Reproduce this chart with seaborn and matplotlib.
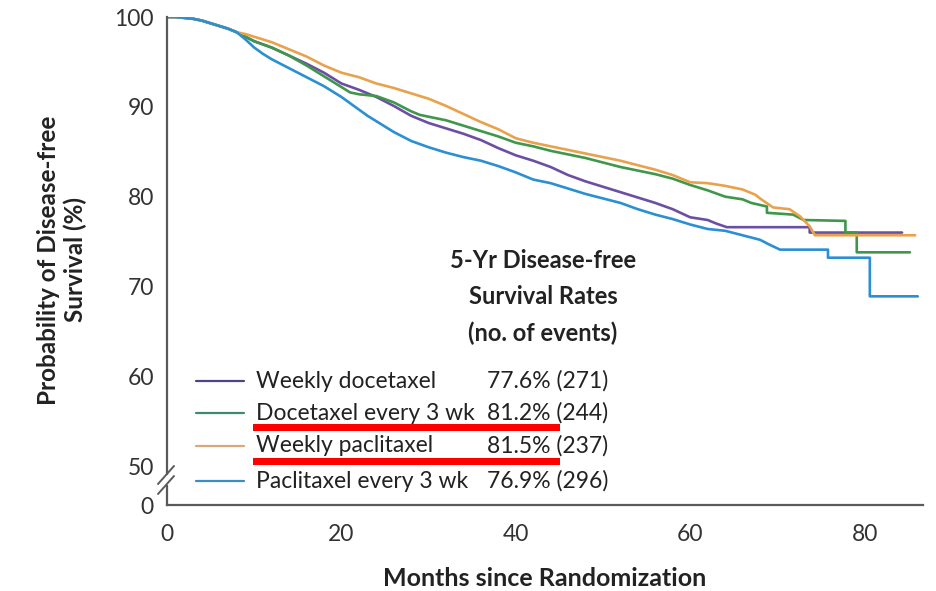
import numpy as np
import pandas as pd
import matplotlib
matplotlib.use("Agg")
import matplotlib.pyplot as plt
import seaborn as sns
from matplotlib.lines import Line2D
from matplotlib.patches import Rectangle

# ---- data -------------------------------------------------------------
arms = ["Weekly docetaxel", "Docetaxel every 3 wk",
        "Weekly paclitaxel", "Paclitaxel every 3 wk"]
five_year_rate = [77.6, 81.2, 81.5, 76.9]
n_events = [271, 244, 237, 296]
line_colors = ["#6b4fa3", "#3f974c", "#e9a24c", "#2b8fd4"]
key_colors = ["#4e4383", "#3f8a6c", "#d8a878", "#3a8ec2"]

shoulder_m = [0, 1, 2, 3, 4, 5, 6, 7, 8]
shoulder_s = [100, 100, 99.9, 99.8, 99.6, 99.3, 99.0, 98.7, 98.3]

wk_doc_m = shoulder_m + [9, 10, 12, 14, 16, 18, 20, 22, 24, 26, 28, 30, 32, 34,
                         36, 38, 40, 42, 44, 46, 48, 50, 52, 54, 56, 58, 60, 62,
                         63, 64.2, 73.7, 73.7, 84.3]
wk_doc_s = shoulder_s + [97.8, 97.3, 96.6, 95.7, 94.8, 93.8, 92.6, 91.9, 91.1,
                         90.1, 89.0, 88.2, 87.6, 87.0, 86.3, 85.4, 84.6, 84.0,
                         83.3, 82.4, 81.7, 81.1, 80.5, 79.9, 79.3, 78.6, 77.7,
                         77.4, 77.0, 76.6, 76.6, 76.0, 76.0]

q3_doc_m = shoulder_m + [9, 10, 12, 14, 16, 18, 20, 21, 22, 23, 24, 26, 28, 29,
                         30, 32, 34, 36, 38, 40, 42, 44, 46, 48, 50, 52, 54, 56,
                         58, 60, 62, 64, 66, 67, 68.8, 68.8, 71.8, 73.0, 77.8,
                         77.8, 79.1, 79.1, 85.2]
q3_doc_s = shoulder_s + [97.8, 97.3, 96.6, 95.7, 94.6, 93.4, 92.2, 91.6, 91.4,
                         91.3, 91.2, 90.5, 89.5, 89.1, 88.9, 88.5, 87.9, 87.3,
                         86.7, 86.0, 85.6, 85.1, 84.7, 84.3, 83.8, 83.3, 82.9,
                         82.5, 82.0, 81.3, 80.7, 80.0, 79.7, 79.3, 78.9, 78.2,
                         78.0, 77.4, 77.3, 76.0, 76.0, 73.8, 73.8]

wk_pac_m = shoulder_m + [9, 10, 12, 14, 16, 18, 20, 22, 24, 26, 28, 30, 32, 34,
                         36, 38, 40, 42, 44, 46, 48, 50, 52, 54, 56, 58, 60, 62,
                         64, 66, 67.5, 68, 69.5, 71.4, 72.6, 73.7, 74.3, 85.8]
wk_pac_s = shoulder_s + [98.1, 97.8, 97.2, 96.4, 95.6, 94.6, 93.8, 93.3, 92.6,
                         92.1, 91.5, 90.9, 90.1, 89.2, 88.3, 87.5, 86.5, 86.0,
                         85.6, 85.2, 84.8, 84.4, 84.0, 83.5, 83.0, 82.4, 81.6,
                         81.5, 81.2, 80.8, 80.2, 79.8, 78.8, 78.6, 77.8, 76.7,
                         75.7, 75.7]

q3_pac_m = shoulder_m + [9, 10, 11, 12, 13, 14, 15, 16, 17, 18, 19, 20, 21, 22,
                         23, 24, 25, 26, 27, 28, 30, 32, 34, 36, 38, 40, 42, 44,
                         46, 48, 50, 52, 54, 56, 58, 60, 62, 64, 66, 68, 69,
                         70.3, 75.8, 75.8, 80.6, 80.6, 86.1]
q3_pac_s = shoulder_s + [97.5, 96.6, 95.9, 95.3, 94.8, 94.3, 93.8, 93.3, 92.8,
                         92.3, 91.7, 91.1, 90.4, 89.7, 89.0, 88.4, 87.8, 87.2,
                         86.7, 86.2, 85.5, 84.9, 84.4, 84.0, 83.4, 82.7, 81.9,
                         81.5, 80.9, 80.3, 79.8, 79.3, 78.6, 78.0, 77.5, 76.9,
                         76.4, 76.2, 75.7, 75.2, 74.7, 74.1, 74.1, 73.2, 73.2,
                         68.9, 68.9]

y_ticks = [0, 50, 60, 70, 80, 90, 100]
x_ticks = [0, 20, 40, 60, 80]

curves = pd.concat([
    pd.DataFrame({"month": m, "dfs": s, "arm": a})
    for a, m, s in zip(arms,
                       [wk_doc_m, q3_doc_m, wk_pac_m, q3_pac_m],
                       [wk_doc_s, q3_doc_s, wk_pac_s, q3_pac_s])
], ignore_index=True)

# ---- style ------------------------------------------------------------
sns.set_style("white")
plt.rcParams["font.family"] = ["Lato", "DejaVu Sans"]
plt.rcParams["text.color"] = "#222222"

W, H = 936, 591


def fpos(x, y):
    """Pixel position (from top-left) -> figure fraction."""
    return x / W, 1 - y / H


fig = plt.figure(figsize=(W / 100, H / 100), dpi=100)
ax_left, ax_top, ax_right, ax_bottom = 167, 17, 923, 505
ax = fig.add_axes([ax_left / W, 1 - ax_bottom / H,
                   (ax_right - ax_left) / W, (ax_bottom - ax_top) / H])

# compressed 0-50 band for the broken y axis
SQUEEZE = 4.33 / 50.0


def fwd(v):
    v = np.asarray(v, dtype=float)
    return np.where(v >= 50, v, 50 - (50 - v) * SQUEEZE)


def inv(u):
    u = np.asarray(u, dtype=float)
    return np.where(u >= 50, u, 50 - (50 - u) / SQUEEZE)


ax.set_yscale("function", functions=(fwd, inv))

sns.lineplot(data=curves, x="month", y="dfs", hue="arm", hue_order=arms,
             palette=line_colors, estimator=None, sort=False, legend=False,
             linewidth=1.9, ax=ax)

ax.set_xlim(0, (ax_right - ax_left) / 8.72)
ax.set_ylim(0, 100)
ax.set_xticks(x_ticks)
ax.set_yticks(y_ticks)
ax.set_xlabel("")
ax.set_ylabel("")
for side in ("top", "right"):
    ax.spines[side].set_visible(False)
for side in ("left", "bottom"):
    ax.spines[side].set_color("#5a5a5a")
    ax.spines[side].set_linewidth(1.6)
ax.tick_params(axis="both", direction="out", length=8.5, width=1.4,
               color="#5a5a5a", labelsize=16.5, labelcolor="#333333")
ax.tick_params(axis="y", pad=1)
ax.tick_params(axis="x", pad=5)

# axis titles
fig.text(*fpos(545, 578), "Months since Randomization",
         ha="center", va="center", fontsize=18, fontweight="bold")
fig.text(*fpos(62, 260), "Probability of Disease-free\nSurvival (%)",
         ha="center", va="center", rotation=90, fontsize=17.5,
         fontweight="bold", multialignment="center", linespacing=1.2)

# break marks on the y axis
brk_y = 480
fig.add_artist(Rectangle(fpos(ax_left - 3, brk_y + 5), 6 / W, 10 / H,
                         transform=fig.transFigure, facecolor="white",
                         edgecolor="none", zorder=5))
for dy in (-5, 5):
    x0, y0 = fpos(ax_left - 9, brk_y + dy + 9)
    x1, y1 = fpos(ax_left + 7, brk_y + dy - 9)
    fig.add_artist(Line2D([x0, x1], [y0, y1], transform=fig.transFigure,
                          color="#5a5a5a", linewidth=1.4, zorder=6))

# key
title_x = 543
for txt, ty in zip(["5-Yr Disease-free", "Survival Rates", "(no. of events)"],
                   [261, 297, 333]):
    fig.text(*fpos(title_x, ty), txt, ha="center", va="center",
             fontsize=17, fontweight="bold")

row_y = [381, 413, 446, 481]
for arm, rate, ev, col, ry in zip(arms, five_year_rate, n_events,
                                  key_colors, row_y):
    xa, ya = fpos(196, ry)
    xb, _ = fpos(244, ry)
    fig.add_artist(Line2D([xa, xb], [ya, ya], transform=fig.transFigure,
                          color=col, linewidth=1.6))
    fig.text(*fpos(256, ry), arm, ha="left", va="center", fontsize=16.5)
    fig.text(*fpos(487, ry), f"{rate:.1f}% ({ev})", ha="left", va="center",
             fontsize=16.5)

# highlight bars under the middle two rows
for top in (424, 458):
    fig.add_artist(Rectangle(fpos(253, top + 7), (560 - 253) / W, 7 / H,
                             transform=fig.transFigure, facecolor="#ff0000",
                             edgecolor="none", zorder=7))

fig.savefig("out.png", dpi=100)
